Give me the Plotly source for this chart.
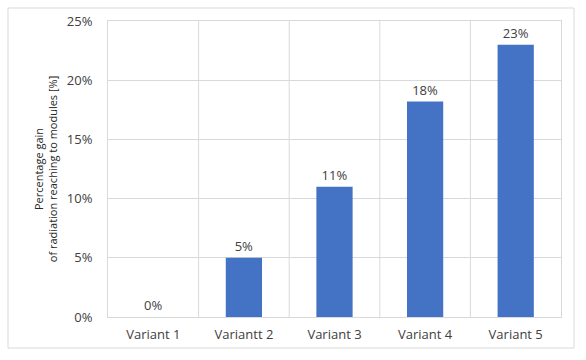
import plotly.graph_objects as go

categories = ["Variant 1", "Variantt 2", "Variant 3", "Variant 4", "Variant 5"]
values = [0, 5, 11, 18.2, 23]
labels = ["0%", "5%", "11%", "18%", "23%"]
tick_vals = [0, 5, 10, 15, 20, 25]
tick_text = ["0%", "5%", "10%", "15%", "20%", "25%"]

FONT = "Open Sans"
TXT = "#404040"

fig = go.Figure(go.Bar(
    x=categories, y=values, text=labels, textposition="outside",
    textfont=dict(family=FONT, size=13, color=TXT),
    marker=dict(color="#4472C4", line=dict(width=0)),
    cliponaxis=False,
))

fig.update_layout(
    width=586, height=360,
    margin=dict(l=108, r=25, t=21, b=43),
    paper_bgcolor="white", plot_bgcolor="white",
    bargap=0.6, showlegend=False,
    font=dict(family=FONT, color=TXT),
    shapes=[dict(type="rect", xref="paper", yref="paper",
                 x0=-100/453, x1=1 + 13/453, y0=-31/296, y1=1 + 13/296,
                 line=dict(color="#D9D9D9", width=1), layer="below")],
)

fig.update_xaxes(
    showgrid=False, showline=True, linecolor="#D9D9D9", mirror=True,
    tickfont=dict(family=FONT, size=13, color=TXT), ticks="",
    ticklabelstandoff=5,
)
# vertical separators between categories
for i in range(4):
    fig.add_vline(x=i + 0.5, line=dict(color="#D9D9D9", width=1), layer="below")

fig.update_yaxes(
    range=[0, 25], tickvals=tick_vals, ticktext=tick_text,
    showgrid=True, gridcolor="#D9D9D9", gridwidth=1,
    showline=True, linecolor="#D9D9D9", mirror=True, zeroline=False,
    tickfont=dict(family=FONT, size=13, color=TXT), ticks="",
    ticklabelstandoff=12,
    title=dict(text="Percentage gain<br>of radiation reaching to modules [%]",
               font=dict(family=FONT, size=11, color="#262626"), standoff=6),
)

fig.write_html("out.html")
